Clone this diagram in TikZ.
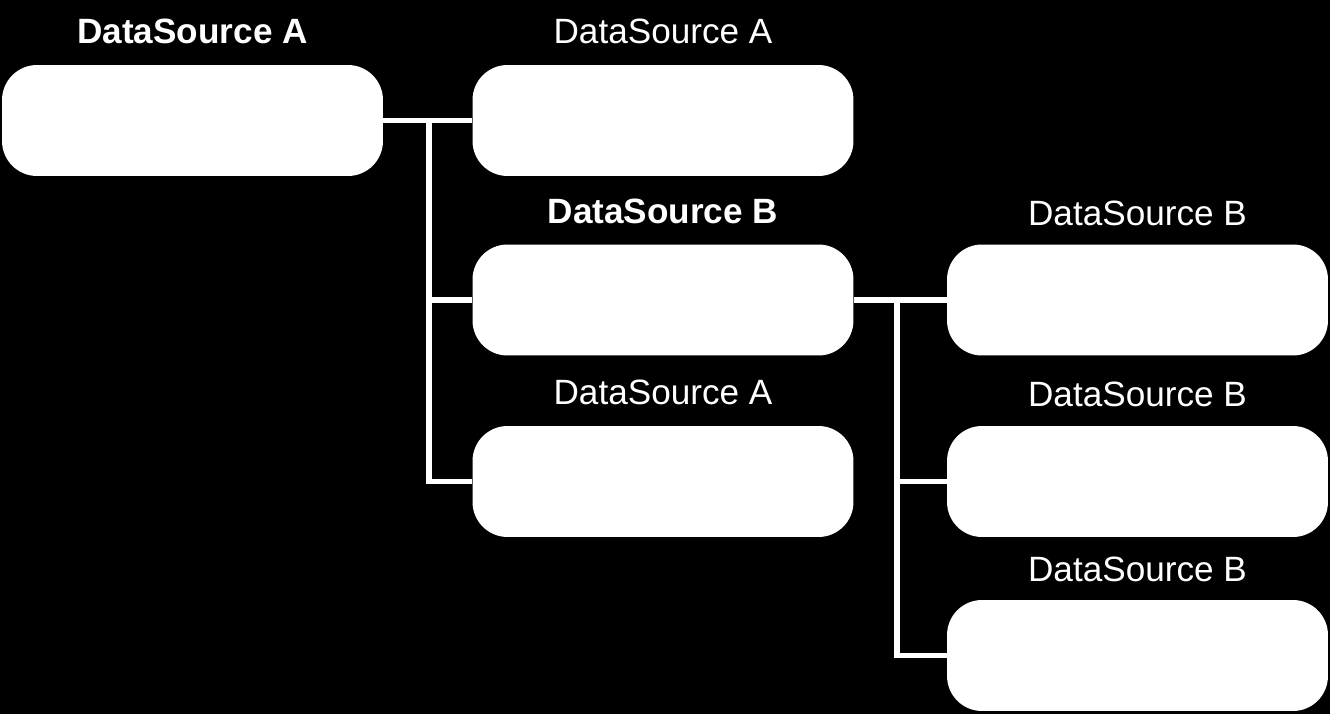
\documentclass[tikz,border=0pt]{standalone}
\usepackage{fontspec}
\setmainfont{Liberation Sans}
\usetikzlibrary{positioning}

\begin{document}
\begin{tikzpicture}[x=0.02cm,y=-0.02cm,
box/.style = {
    fill=white, rounded corners=0.7cm,
    minimum width=7.62cm, minimum height=2.22cm,
    inner sep=0pt,
                            },
title/.style = {
    text=white, inner sep=0pt,
    font=\fontsize{20}{24}\selectfont,
                            },
link/.style = {draw=white, line width=3.4pt},
                    ]
\fill[black] (0,0) rectangle (1330,714);
% boxes
\node[box] (rootA)  at (192.5,120.5) {};
\node[box] (childA) at (663,120.5)   {};
\node[box] (childB) at (663,300)     {};
\node[box] (lastA)  at (663,481.5)   {};
\node[box] (leafB1) at (1137.5,300)  {};
\node[box] (leafB2) at (1137.5,481.5){};
\node[box] (leafB3) at (1137.5,655.5){};
% titles
\node[title,above=0.42cm of rootA,anchor=base]  (tRootA)  {\bfseries DataSource A};
\node[title,above=0.42cm of childA,anchor=base] (tChildA) {DataSource A};
\node[title,above=0.42cm of childB,anchor=base] (tChildB) {\bfseries DataSource B};
\node[title,above=0.42cm of lastA,anchor=base]  (tLastA)  {DataSource A};
\node[title,above=0.38cm of leafB1,anchor=base] (tLeafB1) {DataSource B};
\node[title,above=0.38cm of leafB2,anchor=base] (tLeafB2) {DataSource B};
\node[title,above=0.36cm of leafB3,anchor=base] (tLeafB3) {DataSource B};
% connectors
\coordinate (forkA) at (429,0);
\coordinate (forkB) at (897,0);
\draw[link] (rootA.east) -- (childA.west);
\draw[link] (rootA.east -| forkA) |- (childB.west);
\draw[link] (rootA.east -| forkA) |- (lastA.west);
\draw[link] (childB.east) -- (leafB1.west);
\draw[link] (childB.east -| forkB) |- (leafB2.west);
\draw[link] (childB.east -| forkB) |- (leafB3.west);
\end{tikzpicture}
\end{document}
